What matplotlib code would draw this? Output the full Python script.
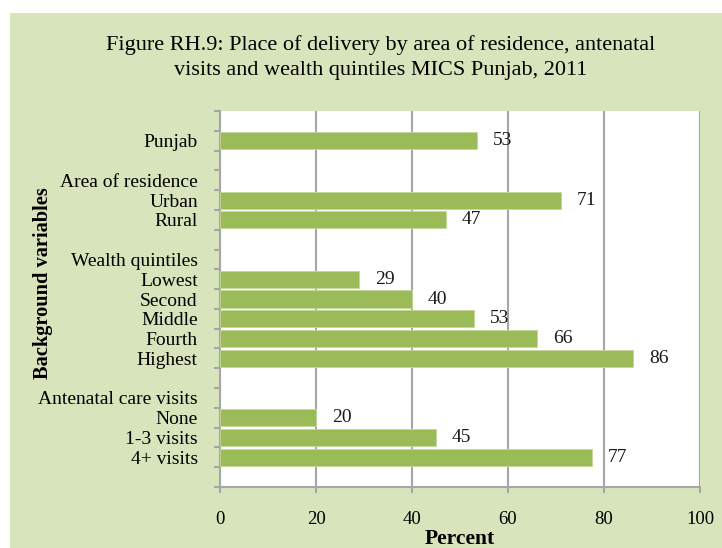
import matplotlib.pyplot as plt
import matplotlib.patches as patches
import numpy as np

# categories from top to bottom ('' = empty slot / group header rows)
categories = ['', 'Punjab', '', 'Area of residence', 'Urban', 'Rural', '',
              'Wealth quintiles', 'Lowest', 'Second', 'Middle', 'Fourth', 'Highest', '',
              'Antenatal care visits', 'None', '1-3 visits', '4+ visits', '']
bar_names = ['Punjab', 'Urban', 'Rural', 'Lowest', 'Second', 'Middle', 'Fourth',
             'Highest', 'None', '1-3 visits', '4+ visits']
bar_values = [53.5, 71, 47, 29, 40, 53, 66, 86, 20, 45, 77.5]
bar_labels = ['53', '71', '47', '29', '40', '53', '66', '86', '20', '45', '77']
x_ticks = [0, 20, 40, 60, 80, 100]

bg = '#d8e4bc'
bar_col = '#9bbb59'
grid_col = '#a6a6a6'

plt.rcParams['font.family'] = ['Liberation Serif', 'DejaVu Serif']

fig = plt.figure(figsize=(7.22, 5.48), dpi=100)
fig.patches.append(patches.Rectangle((10/722, 0), 1, (548-13)/548, transform=fig.transFigure,
                                     facecolor=bg, edgecolor='none', zorder=-1))

ax = fig.add_axes([220/722, 1-487/548, 480/722, 376/548])
ax.set_facecolor('white')

n = len(categories)
ypos = {}
for i, c in enumerate(categories):
    if c in bar_names:
        ypos[c] = n - 1 - i

ys = [ypos[b] for b in bar_names]
ax.barh(ys, bar_values, height=0.86, color=bar_col, edgecolor='#c4d79b', linewidth=0.6, zorder=3)
for y, v, lab in zip(ys, bar_values, bar_labels):
    ax.annotate(lab, (v, y), xytext=(11.5, 0), textcoords='offset points',
                ha='left', va='center', fontsize=14, color='#1a1a1a', zorder=4)

ax.set_xlim(0, 100)
ax.set_ylim(-0.5, n - 0.5)
ax.set_xticks(x_ticks)
ax.set_xticklabels([str(t) for t in x_ticks], fontsize=13.5)
ax.grid(axis='x', color=grid_col, linewidth=1.5, zorder=0)

# major ticks at slot borders, labels at slot centres
ax.set_yticks(np.arange(-0.5, n, 1.0))
ax.set_yticklabels([])
ax.set_yticks(np.arange(n), minor=True)
ax.set_yticklabels(categories[::-1], minor=True, fontsize=14)
ax.tick_params(axis='y', which='minor', length=0, pad=16)
ax.tick_params(axis='y', which='major', length=4, width=1.5, color=grid_col)
ax.tick_params(axis='x', length=4, width=1.5, color=grid_col, pad=13)

for s in ['top', 'right']:
    ax.spines[s].set_visible(False)
for s in ['left', 'bottom']:
    ax.spines[s].set_color(grid_col)
    ax.spines[s].set_linewidth(1.5)

fig.text(460/722, 1-539/548, 'Percent', fontsize=15.5, fontweight='bold',
         ha='center', va='center')
fig.text(43/722, 1-283/548, 'Background variables', rotation=90, fontsize=14.7,
         fontweight='bold', ha='center', va='center')

fig.text(381/722, 1-45/548, 'Figure RH.9: Place of delivery by area of residence, antenatal',
         fontsize=16, ha='center', va='center')
fig.text(381/722, 1-70/548, 'visits and wealth quintiles MICS Punjab, 2011',
         fontsize=16, ha='center', va='center')

fig.savefig('out.png', dpi=100)
